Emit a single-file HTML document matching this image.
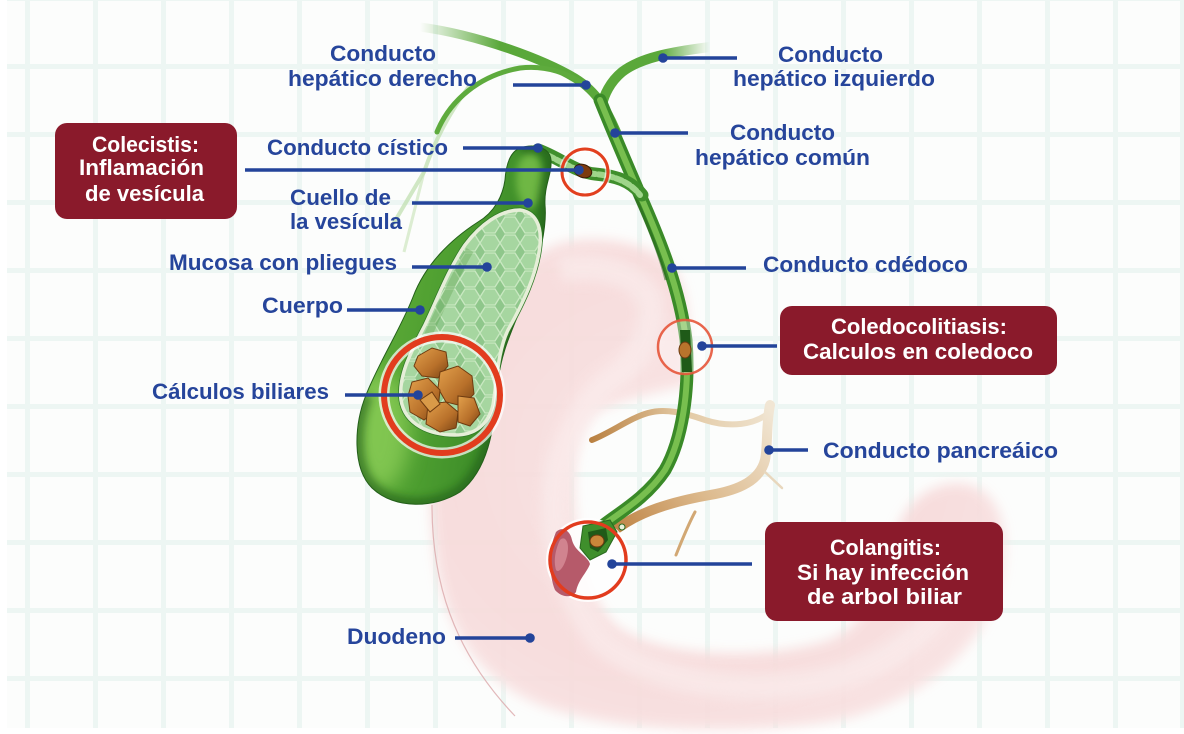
<!DOCTYPE html>
<html>
<head>
<meta charset="utf-8">
<style>
  html,body{margin:0;padding:0;background:#ffffff;}
  body{width:1184px;height:734px;overflow:hidden;}
  svg{display:block;}
  .lb{font-family:"Liberation Sans",Arial,sans-serif;font-weight:bold;font-size:22px;fill:#26459b;}
  .wt{font-family:"Liberation Sans",Arial,sans-serif;font-weight:bold;font-size:22px;fill:#ffffff;}
</style>
</head>
<body>
<svg width="1184" height="734" viewBox="0 0 1184 734" xmlns="http://www.w3.org/2000/svg">
  <defs>
    <filter id="blur6" x="-20%" y="-20%" width="140%" height="140%"><feGaussianBlur stdDeviation="6"/></filter>
    <filter id="blur10" x="-30%" y="-30%" width="160%" height="160%"><feGaussianBlur stdDeviation="10"/></filter>
    <filter id="blur4" x="-20%" y="-20%" width="140%" height="140%"><feGaussianBlur stdDeviation="4"/></filter>
    <linearGradient id="gbBase" x1="0" y1="0" x2="1" y2="0.3">
      <stop offset="0" stop-color="#6cb63e"/>
      <stop offset="0.55" stop-color="#4d9e30"/>
      <stop offset="1" stop-color="#2f7d22"/>
    </linearGradient>
    <linearGradient id="rhGrad" x1="420" y1="0" x2="500" y2="0" gradientUnits="userSpaceOnUse">
      <stop offset="0" stop-color="#5aa83a" stop-opacity="0"/>
      <stop offset="1" stop-color="#5aa83a" stop-opacity="1"/>
    </linearGradient>
    <linearGradient id="lhGrad" x1="710" y1="0" x2="660" y2="0" gradientUnits="userSpaceOnUse">
      <stop offset="0" stop-color="#5aa83a" stop-opacity="0"/>
      <stop offset="1" stop-color="#5aa83a" stop-opacity="1"/>
    </linearGradient>
    <linearGradient id="pancGrad" x1="620" y1="530" x2="770" y2="410" gradientUnits="userSpaceOnUse">
      <stop offset="0" stop-color="#c08648"/>
      <stop offset="0.45" stop-color="#dcb98c"/>
      <stop offset="1" stop-color="#f1e6d4"/>
    </linearGradient>
    <linearGradient id="pancGrad2" x1="770" y1="0" x2="590" y2="0" gradientUnits="userSpaceOnUse">
      <stop offset="0" stop-color="#efe3cf"/>
      <stop offset="0.5" stop-color="#e2c8a2"/>
      <stop offset="1" stop-color="#b98040"/>
    </linearGradient>
    <radialGradient id="pinkGrad" cx="0.45" cy="0.45" r="0.7">
      <stop offset="0" stop-color="#f9e4e4"/>
      <stop offset="0.6" stop-color="#f7dada"/>
      <stop offset="1" stop-color="#f9e5e5"/>
    </radialGradient>
    <linearGradient id="stoneGrad" x1="0" y1="0" x2="1" y2="1">
      <stop offset="0" stop-color="#e3a14c"/>
      <stop offset="0.6" stop-color="#b8702a"/>
      <stop offset="1" stop-color="#7a4414"/>
    </linearGradient>
    <pattern id="cells" width="20" height="18" patternUnits="userSpaceOnUse">
      <rect width="20" height="18" fill="#8fc78b"/>
      <path d="M0,9 L5,1 L15,1 L20,9 L15,17 L5,17 Z" fill="#a6d6a0" stroke="#c9e8c1" stroke-width="1.3"/>
    </pattern>
    <clipPath id="gridClip"><rect x="7" y="0" width="1177" height="728"/></clipPath>
    <clipPath id="gbClip">
      <path d="M 520,148 C 535,143 550,148 551,160 C 552,175 544,185 545,205 C 547,225 540,260 528,290 C 515,325 500,350 497,390 C 494,430 488,470 460,492 C 435,508 395,510 372,488 C 352,468 354,425 366,395 C 380,360 400,330 413,297 C 425,265 450,240 478,222 C 495,212 503,195 505,180 C 506,165 510,152 520,148 Z"/>
    </clipPath>
  </defs>

  <!-- background -->
  <rect x="0" y="0" width="1184" height="734" fill="#ffffff"/>
  <rect x="7" y="0" width="1177" height="728" fill="#fcfdfc"/>
  <g clip-path="url(#gridClip)" fill="#edf6f3">
    <rect x="25" y="0" width="5" height="728"/>
    <rect x="93" y="0" width="5" height="728"/>
    <rect x="161" y="0" width="5" height="728"/>
    <rect x="229" y="0" width="5" height="728"/>
    <rect x="297" y="0" width="5" height="728"/>
    <rect x="365" y="0" width="5" height="728"/>
    <rect x="433" y="0" width="5" height="728"/>
    <rect x="501" y="0" width="5" height="728"/>
    <rect x="569" y="0" width="5" height="728"/>
    <rect x="637" y="0" width="5" height="728"/>
    <rect x="705" y="0" width="5" height="728"/>
    <rect x="773" y="0" width="5" height="728"/>
    <rect x="841" y="0" width="5" height="728"/>
    <rect x="909" y="0" width="5" height="728"/>
    <rect x="977" y="0" width="5" height="728"/>
    <rect x="1045" y="0" width="5" height="728"/>
    <rect x="1113" y="0" width="5" height="728"/>
    <rect x="1180" y="0" width="5" height="728"/>
    <rect x="0" y="-4" width="1184" height="5"/>
    <rect x="0" y="64" width="1184" height="5"/>
    <rect x="0" y="132" width="1184" height="5"/>
    <rect x="0" y="200" width="1184" height="5"/>
    <rect x="0" y="268" width="1184" height="5"/>
    <rect x="0" y="336" width="1184" height="5"/>
    <rect x="0" y="404" width="1184" height="5"/>
    <rect x="0" y="472" width="1184" height="5"/>
    <rect x="0" y="540" width="1184" height="5"/>
    <rect x="0" y="608" width="1184" height="5"/>
    <rect x="0" y="676" width="1184" height="5"/>
  </g>

  <!-- duodenum -->
  <path d="M 545,250 C 575,232 640,238 668,262 C 690,285 690,330 688,385 C 660,392 620,400 597,412 C 575,430 572,470 575,510 C 578,560 590,600 615,625 C 660,660 770,660 830,640 C 875,620 885,575 895,535 C 905,500 935,480 965,484 C 1000,490 1010,530 1002,575 C 990,640 930,700 840,720 C 760,735 620,735 540,705 C 480,680 445,630 436,560 C 428,500 428,440 440,380 C 455,310 500,270 545,250 Z" fill="url(#pinkGrad)" filter="url(#blur6)" opacity="0.92"/>
  <path d="M 560,270 C 600,262 640,275 650,300 C 655,330 640,360 610,380 C 590,395 575,420 560,460 C 545,520 560,590 600,640 C 660,690 780,700 860,670 C 920,645 960,600 975,540" fill="none" stroke="#fbefef" stroke-width="26" filter="url(#blur6)" opacity="0.6"/>
  <path d="M 432,505 C 432,580 452,650 515,716" fill="none" stroke="#dba7aa" stroke-width="1.2" opacity="0.8"/>

  <!-- faint pale vessels -->
  <path d="M 470,85 Q 440,125 424,172 L 392,226" fill="none" stroke="#b8dba6" stroke-width="4" opacity="0.65"/>
  <path d="M 424,172 Q 414,212 404,252" fill="none" stroke="#c6e3b6" stroke-width="3" opacity="0.6"/>

  <!-- pancreatic ducts -->
  <path d="M 770,412 C 755,425 730,428 705,420 C 685,413 665,408 648,413 C 630,418 612,432 592,440" fill="none" stroke="url(#pancGrad2)" stroke-width="6" stroke-linecap="round"/>
  <path d="M 618,528 C 640,512 670,502 710,495 C 740,490 760,480 765,460 C 768,445 766,425 770,405" fill="none" stroke="url(#pancGrad)" stroke-width="10" stroke-linecap="round"/>
  <path d="M 695,512 C 688,525 682,540 676,555" fill="none" stroke="#d2a874" stroke-width="3" stroke-linecap="round"/>
  <path d="M 765,472 L 782,488" fill="none" stroke="#e8d7bd" stroke-width="2.5" stroke-linecap="round"/>

  <!-- hepatic ducts -->
  <path d="M 420,27 C 480,35 545,60 575,78 C 598,92 608,112 617,133" fill="none" stroke="url(#rhGrad)" stroke-width="9" stroke-linecap="round"/>
  <path d="M 437,132 C 450,100 480,75 520,68 C 545,65 565,72 582,83" fill="none" stroke="#5eab3d" stroke-width="5" stroke-linecap="round"/>
  <path d="M 710,47 C 670,52 640,58 622,72 C 610,82 604,95 602,105" fill="none" stroke="url(#lhGrad)" stroke-width="10" stroke-linecap="round"/>
  <!-- common hepatic + common bile duct -->
  <path d="M 600,100 C 610,125 625,160 640,195 C 660,240 680,290 686,340 C 690,390 682,440 665,470 C 645,500 615,515 600,528 C 592,536 590,545 590,552" fill="none" stroke="#3a8a28" stroke-width="13" stroke-linecap="round"/>
  <path d="M 600,100 C 610,125 625,160 640,195 C 660,240 680,290 686,340 C 690,390 682,440 665,470 C 645,500 615,515 600,528" fill="none" stroke="#78bf4f" stroke-width="6" stroke-linecap="round"/>
  <path d="M 632,190 C 648,225 660,255 666,280" fill="none" stroke="#23621a" stroke-width="3" opacity="0.5"/>
  <!-- cystic duct -->
  <path d="M 538,150 C 560,158 575,172 595,174 C 615,176 630,180 642,195" fill="none" stroke="#3f8f2c" stroke-width="13" stroke-linecap="round"/>
  <path d="M 540,152 C 560,160 575,172 595,174 C 615,176 630,182 640,195" fill="none" stroke="#9fd58a" stroke-width="6" stroke-linecap="round" stroke-dasharray="6 3"/>

  <!-- gallbladder -->
  <g clip-path="url(#gbClip)">
    <rect x="340" y="130" width="230" height="390" fill="url(#gbBase)"/>
    <ellipse cx="380" cy="430" rx="30" ry="60" fill="#8fd05a" opacity="0.75" filter="url(#blur10)"/>
    <ellipse cx="530" cy="180" rx="14" ry="28" fill="#7cc24c" opacity="0.8" filter="url(#blur4)"/>
    <path d="M 520,148 C 535,143 550,148 551,160 C 552,175 544,185 545,205 C 547,225 540,260 528,290 C 515,325 500,350 497,390 C 494,430 488,470 460,492 C 435,508 395,510 372,488 C 352,468 354,425 366,395" fill="none" stroke="#1b5715" stroke-width="14" opacity="0.55" filter="url(#blur4)"/>
  </g>
  <path d="M 520,148 C 535,143 550,148 551,160 C 552,175 544,185 545,205 C 547,225 540,260 528,290 C 515,325 500,350 497,390 C 494,430 488,470 460,492 C 435,508 395,510 372,488 C 352,468 354,425 366,395 C 380,360 400,330 413,297 C 425,265 450,240 478,222 C 495,212 503,195 505,180 C 506,165 510,152 520,148 Z" fill="none" stroke="#235f1a" stroke-width="1"/>
  <!-- mucosa cutaway -->
  <path d="M 520,210 C 535,212 542,225 540,245 C 537,275 522,305 508,330 C 498,350 497,380 493,405 C 488,425 475,435 455,435 C 430,435 405,425 401,400 C 398,375 412,350 425,325 C 437,300 448,270 465,245 C 480,225 500,210 520,210 Z" fill="#2f7a26" stroke="#2f7a26" stroke-width="5"/>
  <path d="M 520,210 C 535,212 542,225 540,245 C 537,275 522,305 508,330 C 498,350 497,380 493,405 C 488,425 475,435 455,435 C 430,435 405,425 401,400 C 398,375 412,350 425,325 C 437,300 448,270 465,245 C 480,225 500,210 520,210 Z" fill="url(#cells)" stroke="#e6eed8" stroke-width="3.5"/>
  <path d="M 470,250 C 455,275 440,310 428,335" fill="none" stroke="#4f9840" stroke-width="8" opacity="0.3"/>

  <!-- gallstones -->
  <g stroke="#6e3b10" stroke-width="1">
    <polygon points="418,356 432,348 446,352 448,366 438,378 422,376 414,366" fill="url(#stoneGrad)"/>
    <polygon points="440,372 458,366 472,376 474,394 462,406 446,402 438,388" fill="url(#stoneGrad)"/>
    <polygon points="412,382 428,378 440,390 438,410 424,420 410,412 408,396" fill="url(#stoneGrad)"/>
    <polygon points="428,404 446,402 458,412 456,428 440,432 426,424" fill="url(#stoneGrad)"/>
    <polygon points="458,396 474,398 480,414 470,426 458,422" fill="url(#stoneGrad)"/>
    <polygon points="420,400 432,392 440,404 430,412" fill="#d99a48"/>
  </g>

  <!-- big red circle -->
  <circle cx="442" cy="395" r="58" fill="none" stroke="#ffffff" stroke-width="11" opacity="0.7"/>
  <circle cx="442" cy="395" r="58" fill="none" stroke="#e23c1e" stroke-width="6"/>

  <!-- small red circle on cystic duct -->
  <circle cx="585" cy="172" r="23" fill="none" stroke="#ffffff" stroke-width="6" opacity="0.6"/>
  <ellipse cx="583" cy="171" rx="9" ry="6.5" transform="rotate(20 583 171)" fill="#7c3a0e" stroke="#3a1a06" stroke-width="1"/>
  <circle cx="585" cy="172" r="23" fill="none" stroke="#e2401f" stroke-width="3"/>

  <!-- middle red circle on common bile duct -->
  <circle cx="685" cy="347" r="27" fill="#ffffff" opacity="0.35"/>
  <path d="M 680,330 L 690,330 L 692,372 L 682,372 Z" fill="#1f5a18"/>
  <ellipse cx="685" cy="350" rx="6" ry="8" fill="#b8742c" stroke="#6a3a10" stroke-width="1"/>
  <circle cx="685" cy="347" r="27" fill="none" stroke="#e6553a" stroke-width="2.5" opacity="0.9"/>

  <!-- bottom circle (ampulla) -->
  <circle cx="588" cy="560" r="38" fill="#ffffff" stroke="#ffffff" stroke-width="8" opacity="0.9"/>
  <path d="M 556,532 C 562,526 570,530 572,540 C 575,552 588,556 590,564 C 586,574 578,580 576,592 C 572,598 562,598 555,590 C 549,575 548,550 556,532 Z" fill="#b65a6a"/>
  <path d="M 560,540 C 564,536 568,540 568,548 C 568,560 560,575 556,570 C 553,560 556,548 560,540 Z" fill="#d88d98" opacity="0.8"/>
  <path d="M 583,526 L 610,520 L 617,532 L 606,552 L 590,560 L 580,548 Z" fill="#3f8f2c" stroke="#2a6a1f" stroke-width="1"/>
  <path d="M 588,532 L 606,528 L 608,540 L 598,552 L 590,548 Z" fill="#1f5a18"/>
  <ellipse cx="597" cy="541" rx="7" ry="6" fill="#c9873a" stroke="#6a3a10" stroke-width="1"/>
  <circle cx="622" cy="527" r="3" fill="#e8f2dc" stroke="#2a6a1f" stroke-width="1"/>
  <circle cx="588" cy="560" r="38" fill="none" stroke="#e23c1e" stroke-width="3.5"/>

  <!-- connector lines -->
  <g stroke="#23449a" stroke-width="3.5" fill="none">
    <line x1="513" y1="85" x2="586" y2="85"/>
    <line x1="663" y1="58" x2="737" y2="58"/>
    <line x1="463" y1="148" x2="538" y2="148"/>
    <line x1="245" y1="170" x2="579" y2="170"/>
    <line x1="615" y1="133" x2="688" y2="133"/>
    <line x1="412" y1="203" x2="528" y2="203"/>
    <line x1="412" y1="267" x2="487" y2="267"/>
    <line x1="347" y1="310" x2="420" y2="310"/>
    <line x1="672" y1="268" x2="746" y2="268"/>
    <line x1="702" y1="346" x2="777" y2="346"/>
    <line x1="345" y1="395" x2="418" y2="395"/>
    <line x1="769" y1="450" x2="808" y2="450"/>
    <line x1="612" y1="564" x2="752" y2="564"/>
    <line x1="455" y1="638" x2="530" y2="638"/>
  </g>
  <g fill="#23449a">
    <circle cx="586" cy="85" r="4.8"/>
    <circle cx="663" cy="58" r="4.8"/>
    <circle cx="538" cy="148" r="4.8"/>
    <circle cx="579" cy="170" r="4.8"/>
    <circle cx="615" cy="133" r="4.8"/>
    <circle cx="528" cy="203" r="4.8"/>
    <circle cx="487" cy="267" r="4.8"/>
    <circle cx="420" cy="310" r="4.8"/>
    <circle cx="672" cy="268" r="4.8"/>
    <circle cx="702" cy="346" r="4.8"/>
    <circle cx="418" cy="395" r="4.8"/>
    <circle cx="769" cy="450" r="4.8"/>
    <circle cx="612" cy="564" r="4.8"/>
    <circle cx="530" cy="638" r="4.8"/>
  </g>

  <!-- boxes -->
  <rect x="55" y="123" width="182" height="96" rx="12" ry="12" fill="#8a1a2b"/>
  <rect x="780" y="306" width="277" height="69" rx="12" ry="12" fill="#8a1a2b"/>
  <rect x="765" y="522" width="238" height="99" rx="12" ry="12" fill="#8a1a2b"/>

  <!-- blue labels -->
  <text class="lb" x="330" y="61" textLength="106" lengthAdjust="spacingAndGlyphs">Conducto</text>
  <text class="lb" x="288" y="86" textLength="189" lengthAdjust="spacingAndGlyphs">hepático derecho</text>
  <text class="lb" x="778" y="62" textLength="105" lengthAdjust="spacingAndGlyphs">Conducto</text>
  <text class="lb" x="733" y="86" textLength="202" lengthAdjust="spacingAndGlyphs">hepático izquierdo</text>
  <text class="lb" x="267" y="155" textLength="181" lengthAdjust="spacingAndGlyphs">Conducto cístico</text>
  <text class="lb" x="730" y="140" textLength="105" lengthAdjust="spacingAndGlyphs">Conducto</text>
  <text class="lb" x="695" y="165" textLength="175" lengthAdjust="spacingAndGlyphs">hepático común</text>
  <text class="lb" x="290" y="205" textLength="101" lengthAdjust="spacingAndGlyphs">Cuello de</text>
  <text class="lb" x="290" y="229" textLength="112" lengthAdjust="spacingAndGlyphs">la vesícula</text>
  <text class="lb" x="169" y="270" textLength="228" lengthAdjust="spacingAndGlyphs">Mucosa con pliegues</text>
  <text class="lb" x="262" y="313" textLength="81" lengthAdjust="spacingAndGlyphs">Cuerpo</text>
  <text class="lb" x="763" y="272" textLength="205" lengthAdjust="spacingAndGlyphs">Conducto cdédoco</text>
  <text class="lb" x="152" y="399" textLength="177" lengthAdjust="spacingAndGlyphs">Cálculos biliares</text>
  <text class="lb" x="823" y="458" textLength="235" lengthAdjust="spacingAndGlyphs">Conducto pancreáico</text>
  <text class="lb" x="347" y="644" textLength="99" lengthAdjust="spacingAndGlyphs">Duodeno</text>

  <!-- white box labels -->
  <text class="wt" x="92" y="152" textLength="107" lengthAdjust="spacingAndGlyphs">Colecistis:</text>
  <text class="wt" x="79" y="175" textLength="125" lengthAdjust="spacingAndGlyphs">Inflamación</text>
  <text class="wt" x="85" y="201" textLength="119" lengthAdjust="spacingAndGlyphs">de vesícula</text>
  <text class="wt" x="831" y="334" textLength="176" lengthAdjust="spacingAndGlyphs">Coledocolitiasis:</text>
  <text class="wt" x="803" y="359" textLength="230" lengthAdjust="spacingAndGlyphs">Calculos en coledoco</text>
  <text class="wt" x="830" y="555" textLength="111" lengthAdjust="spacingAndGlyphs">Colangitis:</text>
  <text class="wt" x="797" y="580" textLength="172" lengthAdjust="spacingAndGlyphs">Si hay infección</text>
  <text class="wt" x="807" y="604" textLength="155" lengthAdjust="spacingAndGlyphs">de arbol biliar</text>
</svg>
</body>
</html>
